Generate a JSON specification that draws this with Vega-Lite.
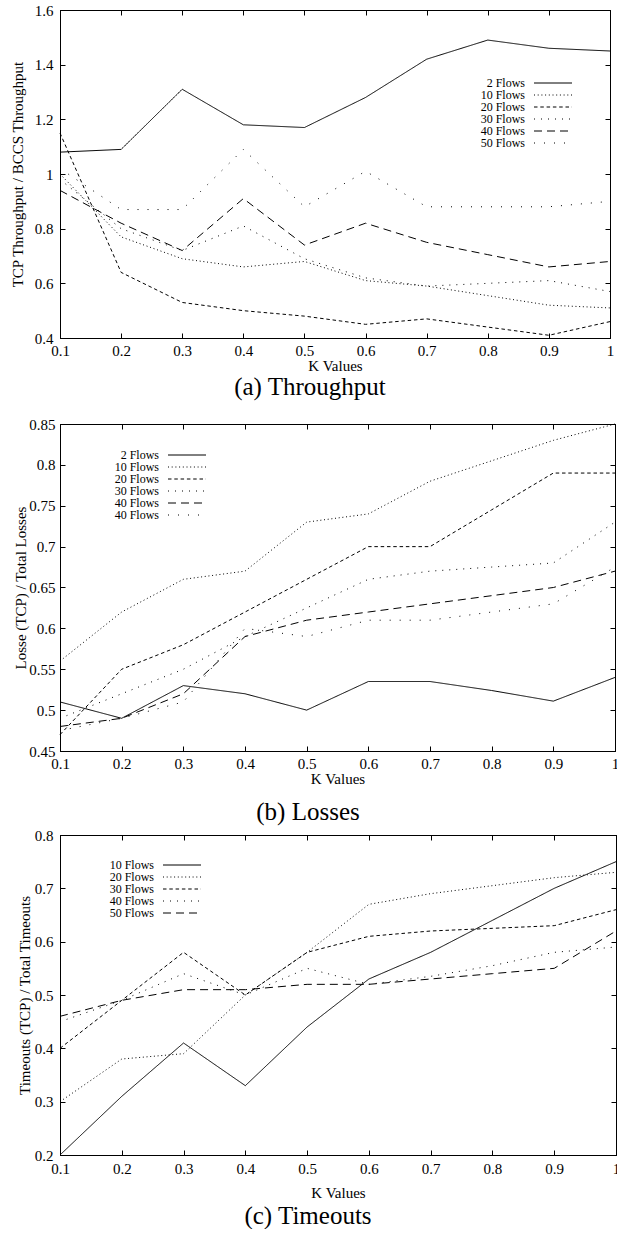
{
  "$schema": "https://vega.github.io/schema/vega-lite/v6.json",
  "padding": {"left": 9, "top": 2, "right": 0, "bottom": 0},
  "background": "white",
  "datasets": {
    "a": [
      {"k":0.1,"series":"2 Flows","v":1.08},{"k":0.2,"series":"2 Flows","v":1.09},{"k":0.3,"series":"2 Flows","v":1.31},{"k":0.4,"series":"2 Flows","v":1.18},{"k":0.5,"series":"2 Flows","v":1.17},{"k":0.6,"series":"2 Flows","v":1.28},{"k":0.7,"series":"2 Flows","v":1.42},{"k":0.8,"series":"2 Flows","v":1.49},{"k":0.9,"series":"2 Flows","v":1.46},{"k":1.0,"series":"2 Flows","v":1.45},
      {"k":0.1,"series":"10 Flows","v":1.0},{"k":0.2,"series":"10 Flows","v":0.77},{"k":0.3,"series":"10 Flows","v":0.69},{"k":0.4,"series":"10 Flows","v":0.66},{"k":0.5,"series":"10 Flows","v":0.68},{"k":0.6,"series":"10 Flows","v":0.61},{"k":0.7,"series":"10 Flows","v":0.59},{"k":0.8,"series":"10 Flows","v":0.555},{"k":0.9,"series":"10 Flows","v":0.52},{"k":1.0,"series":"10 Flows","v":0.51},
      {"k":0.1,"series":"20 Flows","v":1.15},{"k":0.2,"series":"20 Flows","v":0.64},{"k":0.3,"series":"20 Flows","v":0.53},{"k":0.4,"series":"20 Flows","v":0.5},{"k":0.5,"series":"20 Flows","v":0.48},{"k":0.6,"series":"20 Flows","v":0.45},{"k":0.7,"series":"20 Flows","v":0.47},{"k":0.8,"series":"20 Flows","v":0.44},{"k":0.9,"series":"20 Flows","v":0.41},{"k":1.0,"series":"20 Flows","v":0.46},
      {"k":0.1,"series":"30 Flows","v":0.98},{"k":0.2,"series":"30 Flows","v":0.8},{"k":0.3,"series":"30 Flows","v":0.72},{"k":0.4,"series":"30 Flows","v":0.81},{"k":0.5,"series":"30 Flows","v":0.69},{"k":0.6,"series":"30 Flows","v":0.62},{"k":0.7,"series":"30 Flows","v":0.59},{"k":0.8,"series":"30 Flows","v":0.6},{"k":0.9,"series":"30 Flows","v":0.61},{"k":1.0,"series":"30 Flows","v":0.57},
      {"k":0.1,"series":"40 Flows","v":0.94},{"k":0.2,"series":"40 Flows","v":0.82},{"k":0.3,"series":"40 Flows","v":0.72},{"k":0.4,"series":"40 Flows","v":0.91},{"k":0.5,"series":"40 Flows","v":0.74},{"k":0.6,"series":"40 Flows","v":0.82},{"k":0.7,"series":"40 Flows","v":0.75},{"k":0.8,"series":"40 Flows","v":0.705},{"k":0.9,"series":"40 Flows","v":0.66},{"k":1.0,"series":"40 Flows","v":0.68},
      {"k":0.1,"series":"50 Flows","v":1.02},{"k":0.2,"series":"50 Flows","v":0.87},{"k":0.3,"series":"50 Flows","v":0.87},{"k":0.4,"series":"50 Flows","v":1.09},{"k":0.5,"series":"50 Flows","v":0.88},{"k":0.6,"series":"50 Flows","v":1.01},{"k":0.7,"series":"50 Flows","v":0.88},{"k":0.8,"series":"50 Flows","v":0.88},{"k":0.9,"series":"50 Flows","v":0.88},{"k":1.0,"series":"50 Flows","v":0.9}
    ],
    "b": [
      {"k":0.1,"series":"2 Flows","v":0.51},{"k":0.2,"series":"2 Flows","v":0.49},{"k":0.3,"series":"2 Flows","v":0.53},{"k":0.4,"series":"2 Flows","v":0.52},{"k":0.5,"series":"2 Flows","v":0.5},{"k":0.6,"series":"2 Flows","v":0.535},{"k":0.7,"series":"2 Flows","v":0.535},{"k":0.8,"series":"2 Flows","v":0.524},{"k":0.9,"series":"2 Flows","v":0.511},{"k":1.0,"series":"2 Flows","v":0.54},
      {"k":0.1,"series":"10 Flows","v":0.56},{"k":0.2,"series":"10 Flows","v":0.62},{"k":0.3,"series":"10 Flows","v":0.66},{"k":0.4,"series":"10 Flows","v":0.67},{"k":0.5,"series":"10 Flows","v":0.73},{"k":0.6,"series":"10 Flows","v":0.74},{"k":0.7,"series":"10 Flows","v":0.78},{"k":0.8,"series":"10 Flows","v":0.805},{"k":0.9,"series":"10 Flows","v":0.83},{"k":1.0,"series":"10 Flows","v":0.85},
      {"k":0.1,"series":"20 Flows","v":0.47},{"k":0.2,"series":"20 Flows","v":0.55},{"k":0.3,"series":"20 Flows","v":0.58},{"k":0.4,"series":"20 Flows","v":0.62},{"k":0.5,"series":"20 Flows","v":0.66},{"k":0.6,"series":"20 Flows","v":0.7},{"k":0.7,"series":"20 Flows","v":0.7},{"k":0.8,"series":"20 Flows","v":0.745},{"k":0.9,"series":"20 Flows","v":0.79},{"k":1.0,"series":"20 Flows","v":0.79},
      {"k":0.1,"series":"30 Flows","v":0.49},{"k":0.2,"series":"30 Flows","v":0.52},{"k":0.3,"series":"30 Flows","v":0.55},{"k":0.4,"series":"30 Flows","v":0.59},{"k":0.5,"series":"30 Flows","v":0.625},{"k":0.6,"series":"30 Flows","v":0.66},{"k":0.7,"series":"30 Flows","v":0.67},{"k":0.8,"series":"30 Flows","v":0.675},{"k":0.9,"series":"30 Flows","v":0.68},{"k":1.0,"series":"30 Flows","v":0.73},
      {"k":0.1,"series":"40 Flows","v":0.48},{"k":0.2,"series":"40 Flows","v":0.49},{"k":0.3,"series":"40 Flows","v":0.52},{"k":0.4,"series":"40 Flows","v":0.59},{"k":0.5,"series":"40 Flows","v":0.61},{"k":0.6,"series":"40 Flows","v":0.62},{"k":0.7,"series":"40 Flows","v":0.63},{"k":0.8,"series":"40 Flows","v":0.64},{"k":0.9,"series":"40 Flows","v":0.65},{"k":1.0,"series":"40 Flows","v":0.67},
      {"k":0.1,"series":"40 Flows#2","v":0.475},{"k":0.2,"series":"40 Flows#2","v":0.49},{"k":0.3,"series":"40 Flows#2","v":0.51},{"k":0.4,"series":"40 Flows#2","v":0.6},{"k":0.5,"series":"40 Flows#2","v":0.59},{"k":0.6,"series":"40 Flows#2","v":0.61},{"k":0.7,"series":"40 Flows#2","v":0.61},{"k":0.8,"series":"40 Flows#2","v":0.62},{"k":0.9,"series":"40 Flows#2","v":0.63},{"k":1.0,"series":"40 Flows#2","v":0.675}
    ],
    "c": [
      {"k":0.1,"series":"10 Flows","v":0.2},{"k":0.2,"series":"10 Flows","v":0.31},{"k":0.3,"series":"10 Flows","v":0.41},{"k":0.4,"series":"10 Flows","v":0.33},{"k":0.5,"series":"10 Flows","v":0.44},{"k":0.6,"series":"10 Flows","v":0.53},{"k":0.7,"series":"10 Flows","v":0.58},{"k":0.8,"series":"10 Flows","v":0.64},{"k":0.9,"series":"10 Flows","v":0.7},{"k":1.0,"series":"10 Flows","v":0.75},
      {"k":0.1,"series":"20 Flows","v":0.3},{"k":0.2,"series":"20 Flows","v":0.38},{"k":0.3,"series":"20 Flows","v":0.39},{"k":0.4,"series":"20 Flows","v":0.5},{"k":0.5,"series":"20 Flows","v":0.58},{"k":0.6,"series":"20 Flows","v":0.67},{"k":0.7,"series":"20 Flows","v":0.69},{"k":0.8,"series":"20 Flows","v":0.705},{"k":0.9,"series":"20 Flows","v":0.72},{"k":1.0,"series":"20 Flows","v":0.73},
      {"k":0.1,"series":"30 Flows","v":0.4},{"k":0.2,"series":"30 Flows","v":0.49},{"k":0.3,"series":"30 Flows","v":0.58},{"k":0.4,"series":"30 Flows","v":0.5},{"k":0.5,"series":"30 Flows","v":0.58},{"k":0.6,"series":"30 Flows","v":0.61},{"k":0.7,"series":"30 Flows","v":0.62},{"k":0.8,"series":"30 Flows","v":0.625},{"k":0.9,"series":"30 Flows","v":0.63},{"k":1.0,"series":"30 Flows","v":0.66},
      {"k":0.1,"series":"40 Flows","v":0.45},{"k":0.2,"series":"40 Flows","v":0.49},{"k":0.3,"series":"40 Flows","v":0.54},{"k":0.4,"series":"40 Flows","v":0.5},{"k":0.5,"series":"40 Flows","v":0.55},{"k":0.6,"series":"40 Flows","v":0.52},{"k":0.7,"series":"40 Flows","v":0.535},{"k":0.8,"series":"40 Flows","v":0.555},{"k":0.9,"series":"40 Flows","v":0.58},{"k":1.0,"series":"40 Flows","v":0.59},
      {"k":0.1,"series":"50 Flows","v":0.46},{"k":0.2,"series":"50 Flows","v":0.49},{"k":0.3,"series":"50 Flows","v":0.51},{"k":0.4,"series":"50 Flows","v":0.51},{"k":0.5,"series":"50 Flows","v":0.52},{"k":0.6,"series":"50 Flows","v":0.52},{"k":0.7,"series":"50 Flows","v":0.53},{"k":0.8,"series":"50 Flows","v":0.54},{"k":0.9,"series":"50 Flows","v":0.55},{"k":1.0,"series":"50 Flows","v":0.62}
    ]
  },
  "columns": 1,
  "align": "none",
  "spacing": 16,
  "resolve": {"scale": {"strokeDash": "independent"}, "legend": {"strokeDash": "independent"}},
  "concat": [
    {
      "width": 550, "height": 328,
      "data": {"name": "a"},
      "title": {"text": "(a) Throughput", "orient": "bottom", "offset": 1, "dx": -25},
      "layer": [
        {
          "mark": {"type": "line", "color": "black", "strokeWidth": 1},
          "encoding": {
            "x": {"field": "k", "type": "quantitative", "scale": {"domain": [0.1, 1], "nice": false, "zero": false},
                  "axis": {"title": "K Values", "values": [0.1,0.2,0.3,0.4,0.5,0.6,0.7,0.8,0.9,1], "format": ".1~f", "labelPadding": 10.5, "titlePadding": 0}},
            "y": {"field": "v", "type": "quantitative", "scale": {"domain": [0.4, 1.6], "nice": false, "zero": false},
                  "axis": {"title": "TCP Throughput / BCCS Throughput", "values": [0.4,0.6,0.8,1,1.2,1.4,1.6], "format": ".1~f", "labelPadding": 12, "titlePadding": 9}},
            "strokeDash": {"field": "series", "type": "nominal",
                  "scale": {"domain": ["2 Flows","10 Flows","20 Flows","30 Flows","40 Flows","50 Flows"], "range": [[1,0],[1,2.7],[3.5,2.8],[1,6],[8,5],[1,9]]},
                  "legend": {"legendX": 468, "legendY": 67}}
          }
        },
        {
          "mark": {"type": "line", "opacity": 0},
          "encoding": {
            "x": {"field": "k", "type": "quantitative", "scale": {"domain": [0.1, 1], "nice": false, "zero": false},
                  "axis": {"orient": "top", "labels": false, "title": null, "values": [0.1,0.2,0.3,0.4,0.5,0.6,0.7,0.8,0.9,1]}},
            "y": {"field": "v", "type": "quantitative", "scale": {"domain": [0.4, 1.6], "nice": false, "zero": false},
                  "axis": {"orient": "right", "labels": false, "title": null, "values": [0.4,0.6,0.8,1,1.2,1.4,1.6]}}
          }
        }
      ],
      "resolve": {"axis": {"x": "independent", "y": "independent"}}
    },
    {
      "columns": 1,
      "align": "none",
      "spacing": 2,
      "resolve": {"scale": {"strokeDash": "independent"}, "legend": {"strokeDash": "independent"}},
      "concat": [
        {
          "width": 555, "height": 327,
          "data": {"name": "b"},
          "title": {"text": "(b) Losses", "orient": "bottom", "offset": 13, "dx": -29.5},
          "layer": [
            {
              "mark": {"type": "line", "color": "black", "strokeWidth": 1},
              "encoding": {
                "x": {"field": "k", "type": "quantitative", "scale": {"domain": [0.1, 1], "nice": false, "zero": false},
                      "axis": {"title": "K Values", "values": [0.1,0.2,0.3,0.4,0.5,0.6,0.7,0.8,0.9,1], "format": ".1~f", "labelPadding": 10.5, "titlePadding": 0}},
                "y": {"field": "v", "type": "quantitative", "scale": {"domain": [0.45, 0.85], "nice": false, "zero": false},
                      "axis": {"title": "Losse (TCP) / Total Losses", "values": [0.45,0.5,0.55,0.6,0.65,0.7,0.75,0.8,0.85], "format": ".2~f", "labelPadding": 10, "titlePadding": 0.5}},
                "strokeDash": {"field": "series", "type": "nominal",
                      "scale": {"domain": ["2 Flows","10 Flows","20 Flows","30 Flows","40 Flows","40 Flows#2"], "range": [[1,0],[1,2.7],[3.5,2.8],[1,6],[8,5],[1,9]]},
                      "legend": {"legendX": 102, "legendY": 25, "labelExpr": "replace(datum.label, '#2', '')"}}
              }
            },
            {
              "mark": {"type": "line", "opacity": 0},
              "encoding": {
                "x": {"field": "k", "type": "quantitative", "scale": {"domain": [0.1, 1], "nice": false, "zero": false},
                      "axis": {"orient": "top", "labels": false, "title": null, "values": [0.1,0.2,0.3,0.4,0.5,0.6,0.7,0.8,0.9,1]}},
                "y": {"field": "v", "type": "quantitative", "scale": {"domain": [0.45, 0.85], "nice": false, "zero": false},
                      "axis": {"orient": "right", "labels": false, "title": null, "values": [0.45,0.5,0.55,0.6,0.65,0.7,0.75,0.8,0.85]}}
              }
            }
          ],
          "resolve": {"axis": {"x": "independent", "y": "independent"}}
        },
        {
          "width": 556, "height": 320,
          "data": {"name": "c"},
          "title": {"text": "(c) Timeouts", "orient": "bottom", "offset": 3, "dx": -30},
          "layer": [
            {
              "mark": {"type": "line", "color": "black", "strokeWidth": 1},
              "encoding": {
                "x": {"field": "k", "type": "quantitative", "scale": {"domain": [0.1, 1], "nice": false, "zero": false},
                      "axis": {"title": "K Values", "values": [0.1,0.2,0.3,0.4,0.5,0.6,0.7,0.8,0.9,1], "format": ".1~f", "labelPadding": 11.5, "titlePadding": 9}},
                "y": {"field": "v", "type": "quantitative", "scale": {"domain": [0.2, 0.8], "nice": false, "zero": false},
                      "axis": {"title": "Timeouts (TCP) / Total Timeouts", "values": [0.2,0.3,0.4,0.5,0.6,0.7,0.8], "format": ".1~f", "labelPadding": 12, "titlePadding": 1.75}},
                "strokeDash": {"field": "series", "type": "nominal",
                      "scale": {"domain": ["10 Flows","20 Flows","30 Flows","40 Flows","50 Flows"], "range": [[1,0],[1,2.7],[3.5,2.8],[1,6],[8,5]]},
                      "legend": {"legendX": 97, "legendY": 24}}
              }
            },
            {
              "mark": {"type": "line", "opacity": 0},
              "encoding": {
                "x": {"field": "k", "type": "quantitative", "scale": {"domain": [0.1, 1], "nice": false, "zero": false},
                      "axis": {"orient": "top", "labels": false, "title": null, "values": [0.1,0.2,0.3,0.4,0.5,0.6,0.7,0.8,0.9,1]}},
                "y": {"field": "v", "type": "quantitative", "scale": {"domain": [0.2, 0.8], "nice": false, "zero": false},
                      "axis": {"orient": "right", "labels": false, "title": null, "values": [0.2,0.3,0.4,0.5,0.6,0.7,0.8]}}
              }
            }
          ],
          "resolve": {"axis": {"x": "independent", "y": "independent"}}
        }
      ]
    }
  ],
  "config": {
    "font": "Liberation Serif",
    "view": {"stroke": "black", "strokeWidth": 1},
    "axis": {
      "domainColor": "black", "domainWidth": 1, "tickColor": "black", "tickWidth": 1, "tickSize": -5,
      "labelColor": "black", "titleColor": "black", "labelFont": "Liberation Serif", "titleFont": "Liberation Serif",
      "labelFontSize": 15, "titleFontSize": 15, "titleFontWeight": "normal", "grid": false,
      "labelFlush": false, "labelOverlap": false
    },
    "legend": {
      "orient": "none", "title": null, "padding": 0, "rowPadding": 0,
      "symbolType": "M0,0L7.6,0", "symbolSize": 100, "symbolStrokeColor": "black", "symbolFillColor": "transparent", "symbolStrokeWidth": 1,
      "labelAlign": "right", "labelOffset": -15, "labelFont": "Liberation Serif", "labelFontSize": 12, "labelColor": "black"
    },
    "title": {"font": "Liberation Serif", "fontSize": 25, "fontWeight": "normal", "color": "black", "anchor": "middle"}
  }
}
